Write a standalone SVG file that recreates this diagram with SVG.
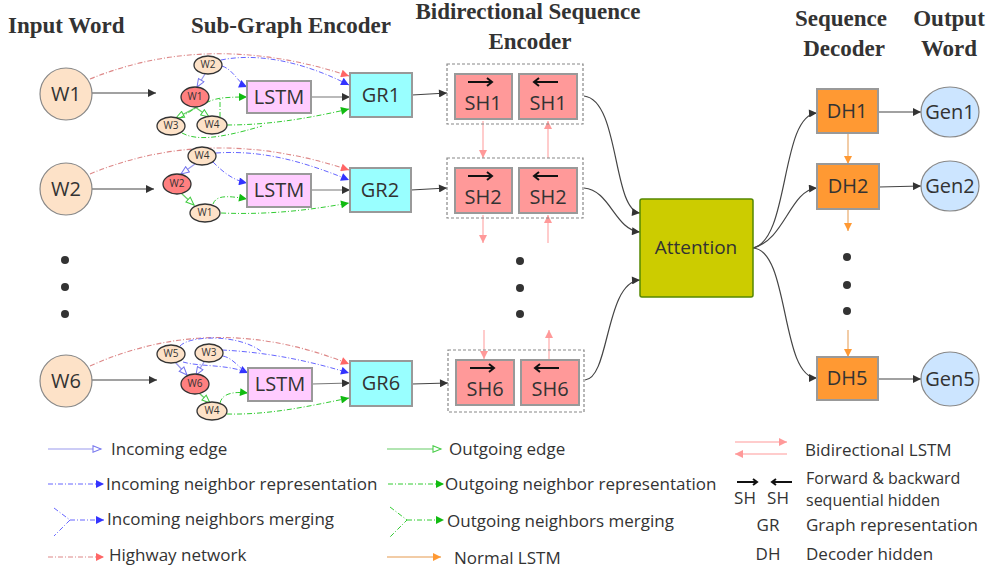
<svg xmlns="http://www.w3.org/2000/svg" width="990" height="571" viewBox="0 0 990 571">
<defs>
<style>
.title{font-family:"Liberation Serif",serif;font-weight:bold;font-size:23px;fill:#333}
.lbl{font-family:"Open Sans","Noto Sans",sans-serif;fill:#333}
.big{font-size:20px}
.sm{font-size:10px}
.leg{font-size:17px}
.word{fill:#fde2c8;stroke:#888;stroke-width:1.2}
.nb{fill:#fde2c8;stroke:#333;stroke-width:1.3}
.ctr{fill:#ff8080;stroke:#333;stroke-width:1.3}
.lstm{fill:#ffccff;stroke:#999;stroke-width:2}
.gr{fill:#99ffff;stroke:#999;stroke-width:2}
.sh{fill:#ff9999;stroke:#999;stroke-width:2}
.grp{fill:none;stroke:#888;stroke-dasharray:3 2;stroke-width:1.2}
.dh{fill:#ff9933;stroke:#999;stroke-width:2}
.gen{fill:#cce5ff;stroke:#888;stroke-width:1.2}
.att{fill:#cccc00;stroke:#558800;stroke-width:1.5}
.blk{fill:none;stroke:#444;stroke-width:1.2;marker-end:url(#ak)}
.gry{fill:none;stroke:#777;stroke-width:1.2;marker-end:url(#ak)}
.hw{fill:none;stroke:#d88;stroke-width:1.1;stroke-dasharray:5 2 1 2;marker-end:url(#ar)}
.inr{fill:none;stroke:#66f;stroke-width:1;stroke-dasharray:5 2 1 2;marker-end:url(#ab)}
.inr0{fill:none;stroke:#66f;stroke-width:1;stroke-dasharray:5 2 1 2}
.outr{fill:none;stroke:#3c3;stroke-width:1;stroke-dasharray:5 2 1 2;marker-end:url(#ag)}
.outr0{fill:none;stroke:#3c3;stroke-width:1;stroke-dasharray:5 2 1 2}
.ine{fill:none;stroke:#99e;stroke-width:1.2;marker-end:url(#ob)}
.oute{fill:none;stroke:#6c6;stroke-width:1.2;marker-end:url(#og)}
.bil{fill:none;stroke:#fbb;stroke-width:1.5;marker-end:url(#ap)}
.nl{fill:none;stroke:#eb8;stroke-width:1.5;marker-end:url(#ao)}
.acc{fill:none;stroke:#111;stroke-width:2}
.dot{fill:#333}
</style>
<marker id="ak" viewBox="0 0 10 10" refX="10" refY="5" markerWidth="11" markerHeight="8" markerUnits="userSpaceOnUse" orient="auto"><path d="M0,0 L10,5 L0,10 z" fill="#333"/></marker>
<marker id="ar" viewBox="0 0 10 10" refX="10" refY="5" markerWidth="11" markerHeight="8" markerUnits="userSpaceOnUse" orient="auto"><path d="M0,0 L10,5 L0,10 z" fill="#f66"/></marker>
<marker id="ab" viewBox="0 0 10 10" refX="10" refY="5" markerWidth="11" markerHeight="8" markerUnits="userSpaceOnUse" orient="auto"><path d="M0,0 L10,5 L0,10 z" fill="#33f"/></marker>
<marker id="ag" viewBox="0 0 10 10" refX="10" refY="5" markerWidth="11" markerHeight="8" markerUnits="userSpaceOnUse" orient="auto"><path d="M0,0 L10,5 L0,10 z" fill="#1b1"/></marker>
<marker id="ob" viewBox="0 0 12 10" refX="11" refY="5" markerWidth="11" markerHeight="8" markerUnits="userSpaceOnUse" orient="auto"><path d="M1,1 L11,5 L1,9 z" fill="#fff" stroke="#77e" stroke-width="1.3"/></marker>
<marker id="og" viewBox="0 0 12 10" refX="11" refY="5" markerWidth="11" markerHeight="8" markerUnits="userSpaceOnUse" orient="auto"><path d="M1,1 L11,5 L1,9 z" fill="#fff" stroke="#4c4" stroke-width="1.3"/></marker>
<marker id="ap" viewBox="0 0 10 10" refX="10" refY="5" markerWidth="12" markerHeight="8" markerUnits="userSpaceOnUse" orient="auto"><path d="M0,0 L10,5 L0,10 z" fill="#f99"/></marker>
<marker id="ao" viewBox="0 0 10 10" refX="10" refY="5" markerWidth="12" markerHeight="8" markerUnits="userSpaceOnUse" orient="auto"><path d="M0,0 L10,5 L0,10 z" fill="#f93"/></marker>
</defs>
<rect width="990" height="571" fill="#fff"/>

<!-- column headings -->
<g id="headings">
<text class="title" x="8" y="33">Input Word</text>
<text class="title" x="191" y="33">Sub-Graph Encoder</text>
<text class="title" x="528" y="19" text-anchor="middle">Bidirectional Sequence</text>
<text class="title" x="530" y="49" text-anchor="middle">Encoder</text>
<text class="title" x="841" y="26" text-anchor="middle">Sequence</text>
<text class="title" x="844" y="56" text-anchor="middle">Decoder</text>
<text class="title" x="949" y="26" text-anchor="middle">Output</text>
<text class="title" x="949" y="56" text-anchor="middle">Word</text>
</g>

<!-- connectors -->
<g id="connectors">
<!-- input word to sub-graph -->
<path class="blk" d="M92,93 L156,93"/>
<path class="blk" d="M92,189 L154,189"/>
<path class="blk" d="M92,380 L157,380"/>
<!-- highway network -->
<path class="hw" d="M90,79 Q210,30 349,76"/>
<path class="hw" d="M90,174 Q210,124 349,170"/>
<path class="hw" d="M90,366 Q215,310 349,364"/>
<!-- sub-graph 1 -->
<path class="inr" d="M221,60 C255,53 300,60 349,85"/>
<path class="inr" d="M222,66 C234,70 238,83 247,87"/>
<path class="ine" d="M205,74 L197,87"/>
<path class="oute" d="M197,107 L176,118"/>
<path class="oute" d="M195,107 L209,117"/>
<path class="outr" d="M180,118 C195,108 210,99 222,98 C232,97 240,97 247,97"/>
<path class="outr0" d="M220,117 L220,99"/>
<path class="outr" d="M227,125 C270,125 310,118 349,109"/>
<path class="outr0" d="M182,133 C195,140 215,140 262,126"/>
<path class="gry" d="M311,97 L350,97"/>
<!-- sub-graph 2 -->
<path class="inr" d="M216,153 C260,150 300,160 349,180"/>
<path class="inr" d="M213,162 C222,171 232,180 247,183"/>
<path class="ine" d="M195,164 L181,174"/>
<path class="oute" d="M181,193 L194,205"/>
<path class="outr" d="M213,204 C216,196 225,195 247,199"/>
<path class="outr" d="M221,213 C270,215 310,210 349,203"/>
<path class="gry" d="M311,190 L350,190"/>
<!-- sub-graph 6 -->
<path class="inr0" d="M180,346 C190,335 240,334 262,352"/>
<path class="inr" d="M222,350 C260,352 300,358 349,373"/>
<path class="inr" d="M183,362 C200,367 228,364 248,373"/>
<path class="inr0" d="M223,356 C232,358 238,366 244,371"/>
<path class="ine" d="M175,362 L187,375"/>
<path class="ine" d="M204,362 L196,375"/>
<path class="oute" d="M199,393 L210,403"/>
<path class="outr" d="M220,403 C222,395 230,391 248,393"/>
<path class="outr" d="M227,414 C270,415 310,406 349,398"/>
<path class="gry" d="M312,384 L350,383"/>
<!-- graph representation to sequence encoder -->
<path class="blk" d="M412,95 L447,93"/>
<path class="blk" d="M411,190 L447,188"/>
<path class="blk" d="M412,384 L448,383"/>
<!-- bidirectional LSTM links -->
<path class="bil" d="M483,121 L483,158"/>
<path class="bil" d="M548,158 L548,121"/>
<path class="bil" d="M483,215 L483,243"/>
<path class="bil" d="M548,243 L548,215"/>
<path class="bil" d="M484,330 L484,359"/>
<path class="bil" d="M549,359 L549,330"/>
<!-- sequence encoder to attention -->
<path class="blk" d="M584,96 C620,100 612,210 640,213"/>
<path class="blk" d="M584,188 C610,190 615,230 640,232"/>
<path class="blk" d="M585,380 C610,378 605,282 640,280"/>
<!-- attention to decoder -->
<path class="blk" d="M753,248 C790,240 780,115 817,113"/>
<path class="blk" d="M753,248 C785,240 790,190 817,188"/>
<path class="blk" d="M753,248 C790,250 780,378 817,378"/>
<!-- decoder chain -->
<path class="nl" d="M848,134 L848,164"/>
<path class="nl" d="M848,210 L848,231"/>
<path class="nl" d="M848,330 L848,357"/>
<!-- decoder to output -->
<path class="blk" d="M878,112 L921,112"/>
<path class="blk" d="M879,187 L921,186"/>
<path class="blk" d="M878,379 L921,379"/>
</g>

<!-- input words -->
<g id="w1"><circle class="word" cx="66" cy="94" r="26"/><text class="lbl big" x="66" y="101" text-anchor="middle">W1</text></g>
<g id="w2"><circle class="word" cx="66" cy="189" r="26"/><text class="lbl big" x="66" y="196" text-anchor="middle">W2</text></g>
<g id="w6"><circle class="word" cx="66" cy="381" r="26"/><text class="lbl big" x="66" y="388" text-anchor="middle">W6</text></g>
<g id="dots-in"><circle class="dot" cx="65" cy="260" r="4"/><circle class="dot" cx="65" cy="287" r="4"/><circle class="dot" cx="65" cy="314" r="4"/></g>

<!-- sub-graph 1 -->
<g id="sg1-w2"><ellipse class="nb" cx="208" cy="65" rx="14" ry="9"/><text class="lbl sm" x="208" y="68" text-anchor="middle">W2</text></g>
<g id="sg1-w1"><ellipse class="ctr" cx="195" cy="97" rx="14" ry="10"/><text class="lbl sm" x="195" y="100" text-anchor="middle">W1</text></g>
<g id="sg1-w3"><ellipse class="nb" cx="171" cy="126" rx="14" ry="9"/><text class="lbl sm" x="171" y="129" text-anchor="middle">W3</text></g>
<g id="sg1-w4"><ellipse class="nb" cx="212" cy="125" rx="15" ry="9"/><text class="lbl sm" x="212" y="128" text-anchor="middle">W4</text></g>
<g id="lstm1"><rect class="lstm" x="247" y="81" width="64" height="32"/><text class="lbl big" x="279" y="104" text-anchor="middle">LSTM</text></g>
<g id="gr1"><rect class="gr" x="350" y="73" width="62" height="44"/><text class="lbl big" x="381" y="102" text-anchor="middle">GR1</text></g>

<!-- sub-graph 2 -->
<g id="sg2-w4"><ellipse class="nb" cx="202" cy="156" rx="14" ry="9"/><text class="lbl sm" x="202" y="159" text-anchor="middle">W4</text></g>
<g id="sg2-w2"><ellipse class="ctr" cx="177" cy="184" rx="14" ry="10"/><text class="lbl sm" x="177" y="187" text-anchor="middle">W2</text></g>
<g id="sg2-w1"><ellipse class="nb" cx="205" cy="213" rx="15" ry="9"/><text class="lbl sm" x="205" y="216" text-anchor="middle">W1</text></g>
<g id="lstm2"><rect class="lstm" x="247" y="174" width="64" height="33"/><text class="lbl big" x="279" y="197" text-anchor="middle">LSTM</text></g>
<g id="gr2"><rect class="gr" x="350" y="168" width="61" height="44"/><text class="lbl big" x="380" y="197" text-anchor="middle">GR2</text></g>

<!-- sub-graph 6 -->
<g id="sg6-w5"><ellipse class="nb" cx="171" cy="354" rx="14" ry="9"/><text class="lbl sm" x="171" y="357" text-anchor="middle">W5</text></g>
<g id="sg6-w3"><ellipse class="nb" cx="209" cy="353" rx="14" ry="9"/><text class="lbl sm" x="209" y="356" text-anchor="middle">W3</text></g>
<g id="sg6-w6"><ellipse class="ctr" cx="195" cy="384" rx="14" ry="10"/><text class="lbl sm" x="195" y="387" text-anchor="middle">W6</text></g>
<g id="sg6-w4"><ellipse class="nb" cx="212" cy="411" rx="15" ry="9"/><text class="lbl sm" x="212" y="414" text-anchor="middle">W4</text></g>
<g id="lstm6"><rect class="lstm" x="248" y="368" width="64" height="33"/><text class="lbl big" x="280" y="391" text-anchor="middle">LSTM</text></g>
<g id="gr6"><rect class="gr" x="350" y="361" width="62" height="45"/><text class="lbl big" x="381" y="390" text-anchor="middle">GR6</text></g>

<!-- sequence encoder -->
<g id="sh1">
<rect class="grp" x="447" y="64" width="136" height="60"/>
<rect class="sh" x="455" y="74" width="57" height="45"/>
<rect class="sh" x="519" y="74" width="58" height="45"/>
<path class="acc" d="M468,82 L492,82 M487,78 L492,82 L487,86"/>
<path class="acc" d="M534,82 L558,82 M539,78 L534,82 L539,86"/>
<text class="lbl big" x="483" y="110" text-anchor="middle">SH1</text>
<text class="lbl big" x="548" y="110" text-anchor="middle">SH1</text>
</g>
<g id="sh2">
<rect class="grp" x="447" y="158" width="136" height="60"/>
<rect class="sh" x="455" y="168" width="57" height="45"/>
<rect class="sh" x="519" y="168" width="58" height="45"/>
<path class="acc" d="M468,176 L492,176 M487,172 L492,176 L487,180"/>
<path class="acc" d="M534,176 L558,176 M539,172 L534,176 L539,180"/>
<text class="lbl big" x="483" y="204" text-anchor="middle">SH2</text>
<text class="lbl big" x="548" y="204" text-anchor="middle">SH2</text>
</g>
<g id="dots-enc"><circle class="dot" cx="520" cy="261" r="4"/><circle class="dot" cx="520" cy="288" r="4"/><circle class="dot" cx="520" cy="314" r="4"/></g>
<g id="sh6">
<rect class="grp" x="448" y="350" width="136" height="62"/>
<rect class="sh" x="456" y="360" width="58" height="45"/>
<rect class="sh" x="521" y="360" width="58" height="45"/>
<path class="acc" d="M470,368 L494,368 M489,364 L494,368 L489,372"/>
<path class="acc" d="M535,368 L559,368 M540,364 L535,368 L540,372"/>
<text class="lbl big" x="485" y="396" text-anchor="middle">SH6</text>
<text class="lbl big" x="550" y="396" text-anchor="middle">SH6</text>
</g>

<!-- attention -->
<g id="attention"><rect class="att" x="640" y="199" width="113" height="98" rx="2"/><text class="lbl" font-size="19" x="696" y="254" text-anchor="middle">Attention</text></g>

<!-- decoder -->
<g id="dh1"><rect class="dh" x="817" y="89" width="61" height="44"/><text class="lbl big" x="847" y="118" text-anchor="middle">DH1</text></g>
<g id="dh2"><rect class="dh" x="817" y="164" width="62" height="45"/><text class="lbl big" x="848" y="193" text-anchor="middle">DH2</text></g>
<g id="dots-dec"><circle class="dot" cx="847" cy="257" r="4"/><circle class="dot" cx="847" cy="285" r="4"/><circle class="dot" cx="847" cy="311" r="4"/></g>
<g id="dh5"><rect class="dh" x="817" y="357" width="61" height="43"/><text class="lbl big" x="847" y="385" text-anchor="middle">DH5</text></g>

<!-- output words -->
<g id="gen1"><ellipse class="gen" cx="950" cy="112" rx="29" ry="25"/><text class="lbl big" x="950" y="119" text-anchor="middle">Gen1</text></g>
<g id="gen2"><ellipse class="gen" cx="950" cy="186" rx="29" ry="25"/><text class="lbl big" x="950" y="193" text-anchor="middle">Gen2</text></g>
<g id="gen5"><ellipse class="gen" cx="950" cy="379" rx="29" ry="27"/><text class="lbl big" x="950" y="386" text-anchor="middle">Gen5</text></g>

<!-- legend -->
<g id="legend">
<path class="ine" d="M48,449 L101,449"/>
<text class="lbl leg" x="111" y="455">Incoming edge</text>
<path class="inr" d="M48,484 L104,484"/>
<text class="lbl leg" x="106" y="490">Incoming neighbor representation</text>
<path class="inr0" d="M54,508 L70,520 L54,536"/>
<path class="inr" d="M70,520 L104,520"/>
<text class="lbl leg" x="107" y="525">Incoming neighbors merging</text>
<path class="hw" d="M48,557 L104,557"/>
<text class="lbl leg" x="109" y="561">Highway network</text>

<path class="oute" d="M387,449 L441,449"/>
<text class="lbl leg" x="449" y="455">Outgoing edge</text>
<path class="outr" d="M388,484 L444,484"/>
<text class="lbl leg" x="445" y="490">Outgoing neighbor representation</text>
<path class="outr0" d="M390,507 L407,520 L390,537"/>
<path class="outr" d="M407,520 L444,520"/>
<text class="lbl leg" x="447" y="527">Outgoing neighbors merging</text>
<path class="nl" d="M387,557 L441,557"/>
<text class="lbl leg" x="454" y="564">Normal LSTM</text>

<path class="bil" d="M735,442 L787,442"/>
<path class="bil" d="M787,454 L735,454"/>
<text class="lbl leg" x="805" y="456">Bidirectional LSTM</text>
<path class="acc" d="M737,482 L757,482 M753,479 L757,482 L753,485" stroke-width="1.6"/>
<path class="acc" d="M772,482 L792,482 M776,479 L772,482 L776,485" stroke-width="1.6"/>
<text class="lbl leg" x="745" y="504" text-anchor="middle">SH</text>
<text class="lbl leg" x="778" y="504" text-anchor="middle">SH</text>
<text class="lbl" font-size="16" x="806" y="484">Forward &amp; backward</text>
<text class="lbl" font-size="16" x="806" y="506">sequential hidden</text>
<text class="lbl leg" x="768" y="531" text-anchor="middle">GR</text>
<text class="lbl leg" x="806" y="531">Graph representation</text>
<text class="lbl leg" x="768" y="560" text-anchor="middle">DH</text>
<text class="lbl leg" x="806" y="560">Decoder hidden</text>
</g>
</svg>
